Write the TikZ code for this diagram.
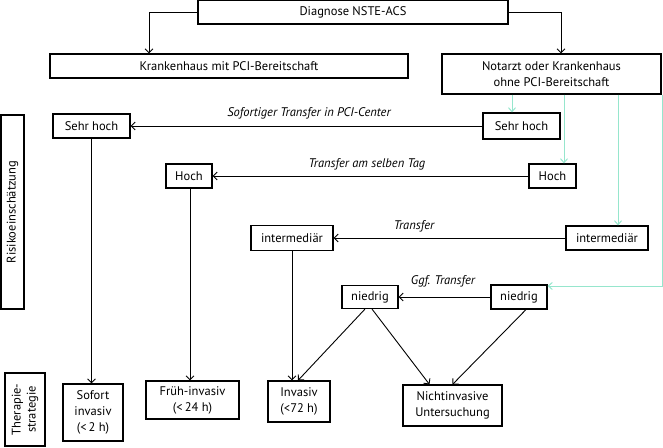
\documentclass[tikz,border=0pt]{standalone}
\usepackage{fontspec}
\setmainfont{PT Sans}
\usetikzlibrary{arrows.meta,calc}
\definecolor{cyanline}{RGB}{150,230,205}
\begin{document}
\begin{tikzpicture}[x=1pt,y=-1pt,
  box/.style={draw,line width=1.1pt,inner sep=0pt,align=center,font=\fontsize{12.5}{16}\selectfont},
  lbl/.style={inner sep=0pt,font=\fontsize{12.5}{15}\selectfont\itshape},
  arr/.style={line width=0.9pt,-{Straight Barb[length=4pt,width=8pt,line width=0.9pt]}},
  cy/.style={line width=1pt,draw=cyanline,-{Straight Barb[length=4pt,width=7pt,line width=1pt]}}]
\useasboundingbox (0,0) rectangle (663,447);
% top level
\node[box,minimum width=310pt,minimum height=23.5pt] (diag) at (353,12.25) {Diagnose NSTE-ACS};
\node[box,minimum width=358pt,minimum height=24pt] (kmit) at (229,66) {Krankenhaus mit PCI-Bereitschaft};
\node[box,minimum width=219pt,minimum height=40pt] (knot) at (551.5,74) {Notarzt oder Krankenhaus\\ohne PCI-Bereitschaft};
% side labels
\node[box,minimum width=194pt,minimum height=23pt,rotate=90] (risk) at (12.5,212) {Risikoeinschätzung};
\node[box,minimum width=73pt,minimum height=40pt,rotate=90,font=\fontsize{12.5}{15}\selectfont] (ther) at (25,409.5) {Therapie-\\strategie};
% risk boxes left
\node[box,minimum width=77pt,minimum height=24pt] (shL) at (91.5,126) {Sehr hoch};
\node[box,minimum width=46pt,minimum height=24pt] (hL) at (189,176) {Hoch};
\node[box,minimum width=82pt,minimum height=25pt] (iL) at (292,238) {intermediär};
\node[box,minimum width=56pt,minimum height=23pt] (nL) at (370,297) {niedrig};
% risk boxes right
\node[box,minimum width=77pt,minimum height=26pt] (shR) at (521.5,126) {Sehr hoch};
\node[box,minimum width=47pt,minimum height=24pt] (hR) at (552.5,176) {Hoch};
\node[box,minimum width=82pt,minimum height=24pt] (iR) at (607,238) {intermediär};
\node[box,minimum width=56pt,minimum height=24pt] (nR) at (519,297) {niedrig};
% therapy boxes
\node[box,minimum width=60pt,minimum height=57pt] (sof) at (93,412.5) {Sofort\\invasiv\\(<\,2 h)};
\node[box,minimum width=93pt,minimum height=38pt] (fru) at (192.5,400) {Früh-invasiv\\(<\,24 h)};
\node[box,minimum width=62pt,minimum height=41pt] (inv) at (299,401.5) {Invasiv\\(<72 h)};
\node[box,minimum width=99pt,minimum height=41pt] (nicht) at (452.5,405.5) {Nichtinvasive\\Untersuchung};
% transfer labels
\node[lbl] (t1) at (309,113) {Sofortiger Transfer in PCI-Center};
\node[lbl] (t2) at (367,164) {Transfer am selben Tag};
\node[lbl] (t3) at (414,226) {Transfer};
\node[lbl] (t4) at (443,281) {Ggf. Transfer};
% top arrows
\coordinate (dl) at ($(kmit.north)+(-80,0)$);
\coordinate (dr) at ($(knot.north)+(9.5,0)$);
\draw[arr] (diag.west) -| (dl);
\draw[arr] (diag.east) -| (dr);
% transfer arrows
\draw[arr] (shR.west) -- (shL.east);
\draw[arr] (hR.west) -- (hL.east);
\draw[arr] (iR.west) -- (iL.east);
\draw[arr] (nR.west) -- (nL.east);
% down arrows
\draw[arr] (shL.south) -- (shL.south |- sof.north);
\draw[arr] ([xshift=1pt]hL.south) -- ([xshift=1pt]hL.south |- fru.north);
\draw[arr] (iL.south) -- (iL.south |- inv.north);
\draw[arr] ([xshift=-5pt]nL.south) -- ([xshift=-1pt]inv.north);
\draw[arr] ([xshift=2pt]nL.south) -- ([xshift=-23pt]nicht.north);
\draw[arr] ([xshift=7pt]nR.south) -- (nicht.north);
% cyan connectors
\coordinate (c1) at ($(shR.north)+(-9.5,0)$);
\coordinate (c2) at ($(hR.north)+(11.5,0)$);
\coordinate (c3) at ($(iR.north)+(11,0)$);
\coordinate (c4) at ($(knot.south east)+(1,0)$);
\coordinate (c5) at ($(nR.east)+(0,-11)$);
\draw[cy] (c1 |- knot.south) -- (c1);
\draw[cy] (c2 |- knot.south) -- (c2);
\draw[cy] (c3 |- knot.south) -- (c3);
\draw[cy] (c4) -- (c4 |- c5) -- (c5);
\end{tikzpicture}
\end{document}
